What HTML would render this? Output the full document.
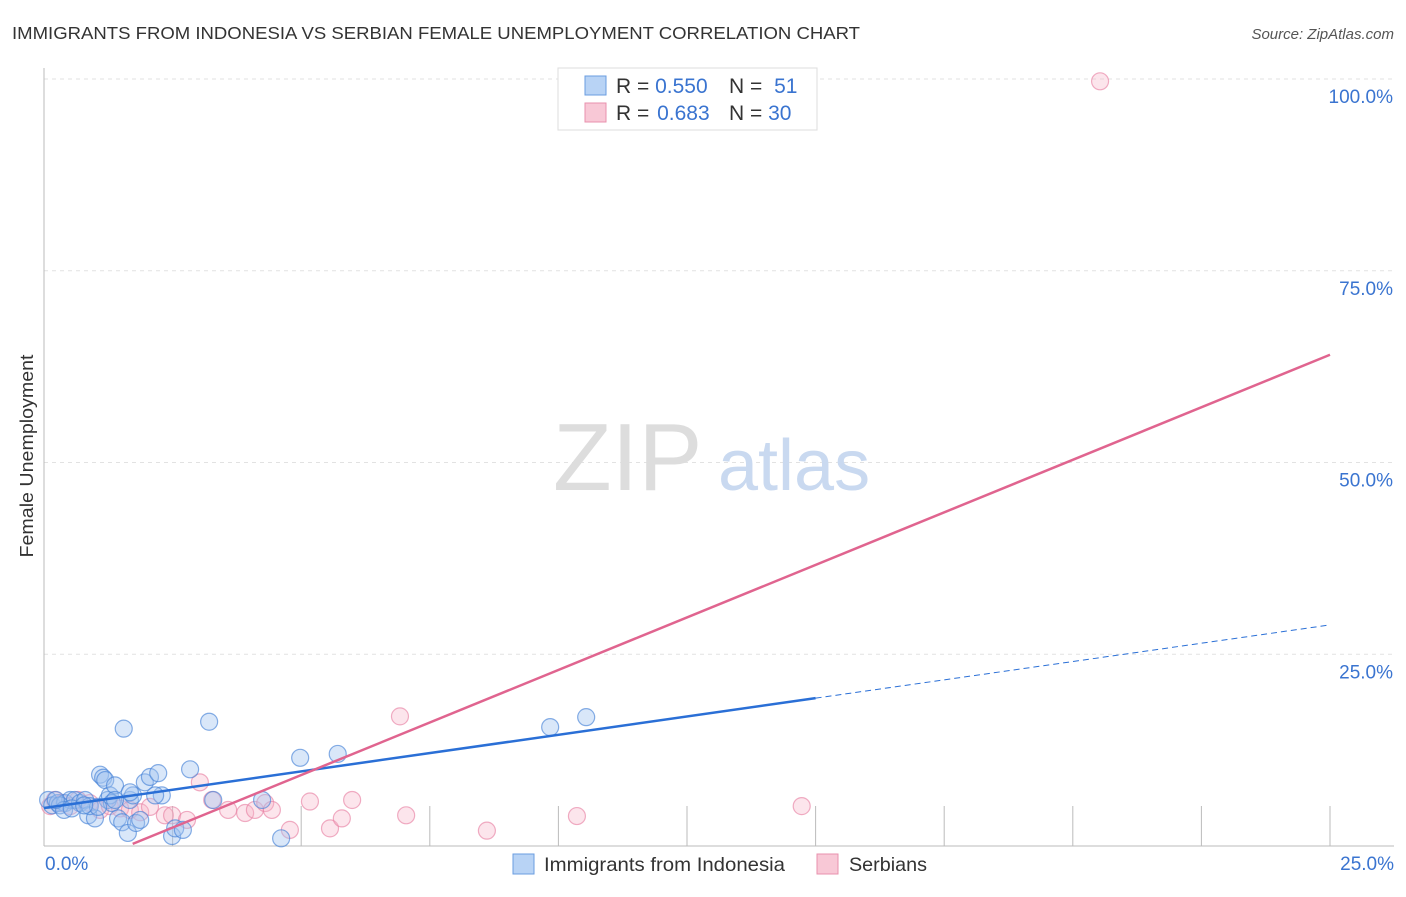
<!DOCTYPE html>
<html><head><meta charset="utf-8"><style>
body{margin:0;background:#fff;font-family:"Liberation Sans",sans-serif}
svg text{font-family:"Liberation Sans",sans-serif}
</style></head><body>
<svg id="c" width="1406" height="892" xmlns="http://www.w3.org/2000/svg">
<text x="12" y="39" font-size="17.5" fill="#333" textLength="848" lengthAdjust="spacingAndGlyphs">IMMIGRANTS FROM INDONESIA VS SERBIAN FEMALE UNEMPLOYMENT CORRELATION CHART</text>
<text x="1394" y="39" font-size="15" fill="#555" font-style="italic" text-anchor="end">Source: ZipAtlas.com</text>
<text x="33" y="456" font-size="18" fill="#333" text-anchor="middle" textLength="203" lengthAdjust="spacingAndGlyphs" transform="rotate(-90 33 456)">Female Unemployment</text>
<g id="grid"></g>
<g><text x="553" y="490" font-size="96" fill="#ddd" font-family="Liberation Serif">ZIP</text><text x="718" y="490" font-size="72" fill="#c9d9f0">atlas</text></g>
<g id="pts"></g>
<g id="lines"></g>
<g>
<rect x="558" y="68" width="259" height="62" fill="#fff" stroke="#ddd"/>
<rect x="585" y="76" width="21" height="19" fill="#b8d3f5" stroke="#6a9de0"/>
<rect x="585" y="103" width="21" height="19" fill="#f8c8d6" stroke="#e891ad"/>
<text x="616" y="93" font-size="21" fill="#333">R = <tspan fill="#3a74d0">0.550</tspan></text>
<text x="729" y="93" font-size="21" fill="#333">N = <tspan fill="#3a74d0" dx="6">51</tspan></text>
<text x="616" y="120" font-size="21" fill="#333">R = <tspan fill="#3a74d0" dx="2">0.683</tspan></text>
<text x="729" y="120" font-size="21" fill="#333">N = <tspan fill="#3a74d0">30</tspan></text>
</g>
<g>
<rect x="513" y="854" width="21" height="20" fill="#b8d3f5" stroke="#6a9de0"/>
<text x="544" y="871" font-size="19.5" fill="#333" textLength="241" lengthAdjust="spacingAndGlyphs">Immigrants from Indonesia</text>
<rect x="817" y="854" width="21" height="20" fill="#f8c8d6" stroke="#e891ad"/>
<text x="849" y="871" font-size="19.5" fill="#333" textLength="78" lengthAdjust="spacingAndGlyphs">Serbians</text>
</g>
</svg>
<script>
const blueX=[0.08,0.16,0.27,0.41,0.51,0.6,0.7,0.8,0.86,0.99,1.09,1.15,1.19,1.24,1.28,1.32,1.44,1.52,1.55,1.63,1.67,1.73,1.79,1.87,1.96,2.06,2.22,2.29,2.49,2.55,2.7,2.84,3.21,3.29,4.24,4.61,4.98,5.71,9.84,10.54,0.89,1.05,0.31,1.38,1.67,0.39,0.23,0.54,0.78,1.38,2.16];
const blueY=[6.0,5.3,5.6,5.6,6.0,6.0,5.6,6.0,4.0,3.6,9.3,8.9,8.6,6.0,6.6,5.6,3.6,3.1,15.3,1.7,6.0,6.6,3.0,3.4,8.3,9.0,9.5,6.6,1.3,2.3,2.1,10.0,16.2,6.0,6.0,1.0,11.5,12.0,15.5,16.8,5.2,5.1,5.3,7.9,7.0,4.7,6.0,4.9,5.3,6.0,6.6];
const pinkX=[0.12,0.21,0.35,0.51,0.66,0.89,1.09,1.28,1.48,1.67,1.87,2.06,2.35,2.49,2.78,3.03,3.27,3.58,3.91,4.1,4.3,4.43,4.78,5.17,5.56,5.79,5.99,6.92,7.04,8.61,10.36,14.73,20.53];
const pinkY=[5.2,6.0,5.6,5.2,6.0,5.6,4.7,5.2,4.9,4.7,4.4,5.1,4.0,4.0,3.4,8.3,6.0,4.7,4.3,4.7,5.6,4.7,2.1,5.8,2.3,3.6,6.0,16.9,4.0,2.0,3.9,5.2,99.7];
const blueFit=[4.95,0.955];const pinkFit=[-4.45,2.74];
const yTicks=[25,50,75,100];const yTickLabels=["25.0%","50.0%","75.0%","100.0%"];
const NS="http://www.w3.org/2000/svg";
const X=v=>44+v/25*1286, Y=v=>846-v/100*767;
function mk(t,a,p){const e=document.createElementNS(NS,t);for(const k in a)e.setAttribute(k,a[k]);p.appendChild(e);return e;}
const g=document.getElementById('grid');
yTicks.forEach((t,i)=>{const l=mk('line',{x1:44,x2:1394,y1:Y(t),y2:Y(t),stroke:'#e2e2e2','stroke-dasharray':'4,4'},g);


const tx=mk('text',{x:1393,y:Y(t)+24,'font-size':19,fill:'#3a74d0','text-anchor':'end'},g);tx.textContent=yTickLabels[i];

});
const ax=mk('line',{x1:44,x2:44,y1:68,y2:846,stroke:'#bbb'},g);


const bx=mk('line',{x1:44,x2:1394,y1:846,y2:846,stroke:'#bbb'},g);


for(let i=1;i<=10;i++){const t=mk('line',{x1:X(i*2.5),x2:X(i*2.5),y1:806,y2:846,stroke:'#bbb'},g);

}
const x0=mk('text',{x:45,y:870,'font-size':19,fill:'#3a74d0'},g);x0.textContent='0.0%';


const x1=mk('text',{x:1394,y:870,'font-size':19,fill:'#3a74d0','text-anchor':'end'},g);x1.textContent='25.0%';


const pg=document.getElementById('pts');
pinkX.forEach((x,i)=>{const c=mk('circle',{cx:X(x),cy:Y(pinkY[i]),r:8.5,fill:'rgba(246,180,200,0.35)',stroke:'rgba(232,130,165,0.65)','stroke-width':1.2},pg);

});
blueX.forEach((x,i)=>{const c=mk('circle',{cx:X(x),cy:Y(blueY[i]),r:8.5,fill:'rgba(160,195,240,0.4)',stroke:'rgba(70,130,215,0.65)','stroke-width':1.2},pg);

});
const lg=document.getElementById('lines');
const bl=mk('line',{x1:X(0),y1:Y(blueFit[0]),x2:X(15),y2:Y(blueFit[0]+blueFit[1]*15),stroke:'#2a6fd6','stroke-width':2.5},lg);


const bd=mk('line',{x1:X(15),y1:Y(blueFit[0]+blueFit[1]*15),x2:X(25),y2:Y(blueFit[0]+blueFit[1]*25),stroke:'#2a6fd6','stroke-width':1,'stroke-dasharray':'6,4'},lg);


const ps=-pinkFit[0]/pinkFit[1]+0.1;
const pl=mk('line',{x1:X(ps),y1:Y(pinkFit[0]+pinkFit[1]*ps),x2:X(25),y2:Y(pinkFit[0]+pinkFit[1]*25),stroke:'#e0648f','stroke-width':2.5},lg);


</script>
</body></html>
